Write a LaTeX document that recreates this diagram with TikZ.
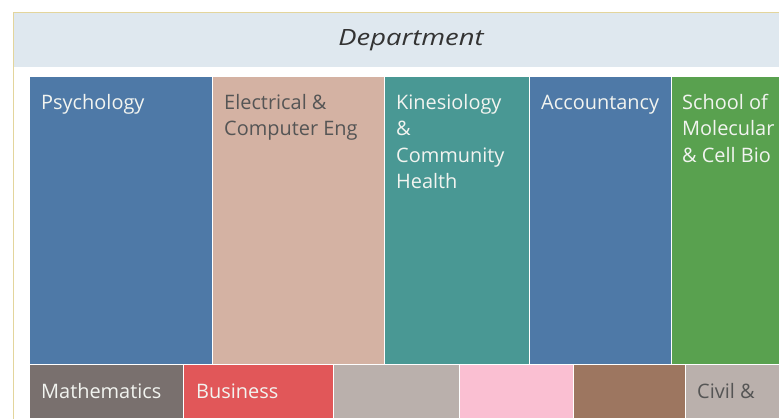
\documentclass[tikz,border=0pt]{standalone}
\usepackage{fontspec}
\setmainfont{Open Sans}
\definecolor{tblue}{HTML}{4E79A7}
\definecolor{ttan}{HTML}{D4B2A3}
\definecolor{tteal}{HTML}{499894}
\definecolor{tgreen}{HTML}{59A14F}
\definecolor{tgrayb}{HTML}{79706E}
\definecolor{tred}{HTML}{E15759}
\definecolor{tgrayl}{HTML}{BAB0AC}
\definecolor{tpink}{HTML}{FABFD2}
\definecolor{tbrown}{HTML}{9D7660}
\definecolor{hdr}{HTML}{DFE8EF}
\definecolor{brd}{HTML}{E3D59C}
\definecolor{darktxt}{HTML}{555555}
\definecolor{lighttxt}{HTML}{F2F4F0}
\newcommand{\stk}[1]{\vtop{\baselineskip=26.5bp\lineskiplimit=0pt#1}}
\tikzset{
  cell/.style={draw=white, line width=1bp, anchor=north west, inner sep=0pt, outer sep=0pt},
  lbl/.style={anchor=base west, inner sep=0pt, font=\fontsize{20}{26.5}\selectfont},
  lt/.style={lbl, text=lighttxt},
  dk/.style={lbl, text=darktxt},
}
\begin{document}
\begin{tikzpicture}[x=1bp, y=-1bp]
\useasboundingbox (0,0) rectangle (779,419);
\fill[white] (0,0) rectangle (779,419);
% header
\node[anchor=north west, fill=hdr, minimum width=765bp, minimum height=54bp, inner sep=0pt] (hdr) at (14,13) {};
\draw[brd, line width=1.5bp] (13.5,419) -- (13.5,12.5) -- (779,12.5);
\node[anchor=base, inner sep=0pt, text=black!80, font=\fontsize{22.5}{26}\selectfont\itshape] (dept) at (411,45.5) {\scalebox{1.22}[1]{Department}};
% top row
\node[cell, fill=tblue, minimum width=183bp, minimum height=288bp] (psy) at (29,76) {};
\node[cell, fill=ttan, minimum width=172bp, minimum height=288bp] (ece) at (212,76) {};
\node[cell, fill=tteal, minimum width=145bp, minimum height=288bp] (kin) at (384,76) {};
\node[cell, fill=tblue, minimum width=142bp, minimum height=288bp] (acc) at (529,76) {};
\node[cell, fill=tgreen, minimum width=110bp, minimum height=288bp] (mcb) at (671,76) {};
% bottom row
\node[cell, fill=tgrayb, minimum width=154bp, minimum height=54bp] (math) at (29,364) {};
\node[cell, fill=tred, minimum width=150bp, minimum height=54bp] (bus) at (183,364) {};
\node[cell, fill=tgrayl, minimum width=126bp, minimum height=54bp] (g1) at (333,364) {};
\node[cell, fill=tpink, minimum width=114bp, minimum height=54bp] (pink) at (459,364) {};
\node[cell, fill=tbrown, minimum width=112bp, minimum height=54bp] (brown) at (573,364) {};
\node[cell, fill=tgrayl, minimum width=96bp, minimum height=54bp] (civ) at (685,364) {};
\fill[white] (14.5,418) rectangle (779,419);
% labels
\node[lt] (psyt) at ([xshift=12bp, yshift=-33bp]psy.north west) {Psychology};
\node[dk] (ecet) at ([xshift=12bp, yshift=-33bp]ece.north west) {\stk{\hbox{Electrical \&}\hbox{Computer Eng}}};
\node[lt] (kint) at ([xshift=12bp, yshift=-33bp]kin.north west) {\stk{\hbox{Kinesiology}\hbox{\&}\hbox{Community}\hbox{Health}}};
\node[lt] (acct) at ([xshift=12bp, yshift=-33bp]acc.north west) {Accountancy};
\node[lt] (mcbt) at ([xshift=11bp, yshift=-33bp]mcb.north west) {\stk{\hbox{School of}\hbox{Molecular}\hbox{\& Cell Bio}}};
\node[lt] (matht) at ([xshift=12bp, yshift=-34bp]math.north west) {Mathematics};
\node[lt] (bust) at ([xshift=13bp, yshift=-34bp]bus.north west) {Business};
\node[dk] (civt) at ([xshift=12bp, yshift=-34bp]civ.north west) {Civil \&};
\end{tikzpicture}
\end{document}
